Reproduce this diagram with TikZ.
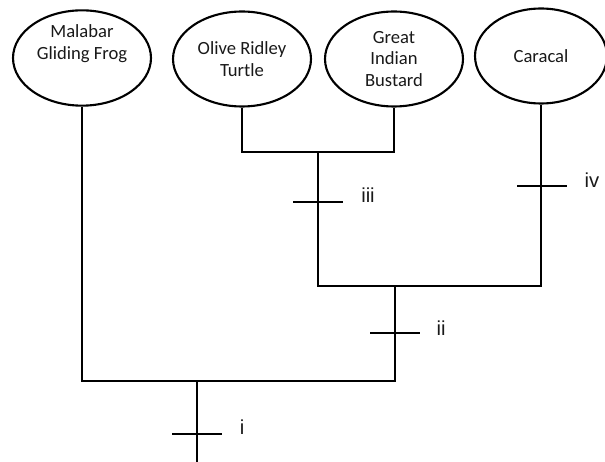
\documentclass[tikz,border=0pt]{standalone}
\usepackage{fontspec}
\setmainfont{Carlito}
\newfontfamily\numfont{Liberation Sans}
\usepackage{tikz}
\usetikzlibrary{shapes.geometric, positioning}

\tikzset{
  species/.style={draw, ellipse, line width=1.2pt, minimum width=2.76cm, minimum height=1.9cm,
    inner sep=0pt, align=center, text=black!90, font=\fontsize{10.6}{12.5}\selectfont},
  branch/.style={line width=1.3pt},
  trait/.style={text=black!90, font=\numfont\fontsize{11.5}{13}\selectfont},
}

\begin{document}
\begin{tikzpicture}[x=0.02cm, y=-0.02cm]
    \useasboundingbox (0,0) rectangle (605,462);

    % species at the tips
    \node[species] (frog) at (82,58) {Malabar\\Gliding Frog\\[6pt]~};
    \node[species] (turtle) at (242,59) {Olive Ridley\\Turtle};
    \node[species] (bustard) at (394,59) {Great\\Indian\\Bustard};
    \node[species, minimum width=2.64cm] (caracal) at (541,56) {Caracal};

    % joints
    \coordinate (tb) at (318,152);
    \coordinate (tbc) at (395,286);
    \coordinate (root) at (197,381);
    \coordinate (base) at (197,462);

    % branches
    \draw[branch] (turtle.south) |- (tb) -| (bustard.south);
    \draw[branch] (tb) -- (tb |- tbc) -| (caracal.south);
    \draw[branch] (tbc) |- (root);
    \draw[branch] (frog.south) |- (root) -- (base);

    % trait marks
    \coordinate (m1) at (197,434);
    \coordinate (m2) at (395,333);
    \coordinate (m3) at (318,202);
    \coordinate (m4) at (542,186);
    \foreach \m in {m1, m2, m3, m4}
        \draw[branch] (\m) ++(-25,0) -- ++(50,0);

    \node[trait] (i) at (242,427) {i};
    \node[trait] (ii) at (441,328) {ii};
    \node[trait] (iii) at (368,195) {iii};
    \node[trait] (iv) at (592,180) {iv};
\end{tikzpicture}
\end{document}
